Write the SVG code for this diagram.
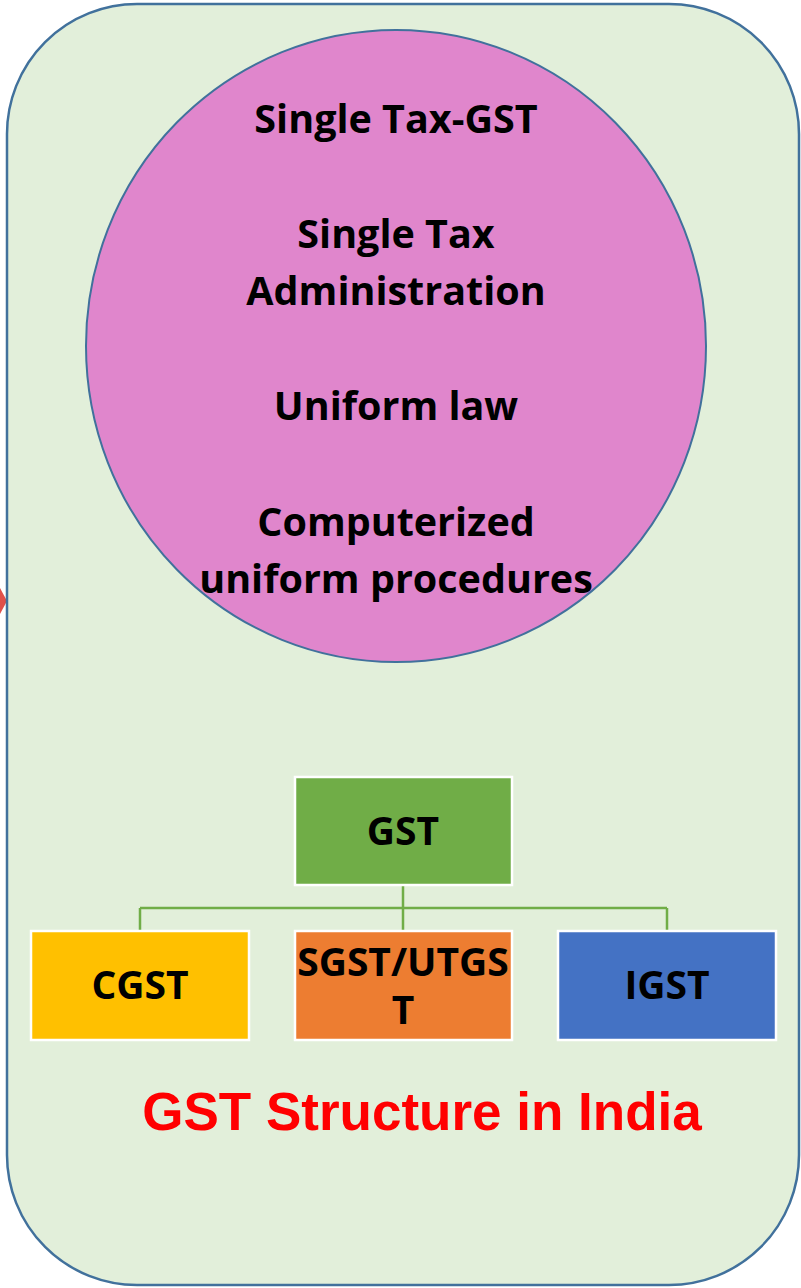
<svg xmlns="http://www.w3.org/2000/svg" width="801" height="1288" viewBox="0 0 801 1288">
<style>
.t{font-family:"Open Sans","Liberation Sans",sans-serif;font-weight:bold;fill:#000;text-anchor:middle}
.c{font-size:39.5px}
.b{font-size:39px}
.box{stroke:#fff;stroke-width:2.5}
.conn{stroke:#70AD47;stroke-width:2.5;fill:none}
</style>
<rect width="801" height="1288" fill="#fff"/>
<g id="arrow"><polygon points="0,588 7,601 0,614" fill="#E0504A"/></g>
<g id="panel"><rect x="7" y="4" width="792" height="1281" rx="130" ry="130" fill="#E2EFDA" stroke="#41719C" stroke-width="2.5"/></g>
<g id="circle">
<ellipse cx="396" cy="346" rx="310" ry="316" fill="#E086CC" stroke="#41719C" stroke-width="2"/>
<text class="t c" x="396" y="133">Single Tax-GST</text>
<text class="t c" x="396" y="248">Single Tax</text>
<text class="t c" x="396" y="305">Administration</text>
<text class="t c" x="396" y="420">Uniform law</text>
<text class="t c" x="396" y="536">Computerized</text>
<text class="t c" x="396" y="593">uniform procedures</text>
</g>
<g id="connectors">
<path class="conn" d="M403,885 V908 M140,908 H667 M140,908 V931 M403,908 V931 M667,908 V931"/>
</g>
<g id="gst"><rect class="box" x="295" y="777" width="217" height="108" fill="#70AD47"/><text class="t b" x="403" y="845">GST</text></g>
<g id="cgst"><rect class="box" x="31" y="931" width="218" height="109" fill="#FFC000"/><text class="t b" x="140" y="999">CGST</text></g>
<g id="sgst"><rect class="box" x="295" y="931" width="217" height="109" fill="#ED7D31"/><text class="t b" x="403" y="976">SGST/UTGS</text><text class="t b" x="403" y="1024">T</text></g>
<g id="igst"><rect class="box" x="558" y="931" width="218" height="109" fill="#4472C4"/><text class="t b" x="667" y="999">IGST</text></g>
<g id="title"><text x="422" y="1130" font-family="'Liberation Sans',Arial,sans-serif" font-weight="bold" font-size="53" fill="#FF0000" text-anchor="middle">GST Structure in India</text></g>
</svg>
